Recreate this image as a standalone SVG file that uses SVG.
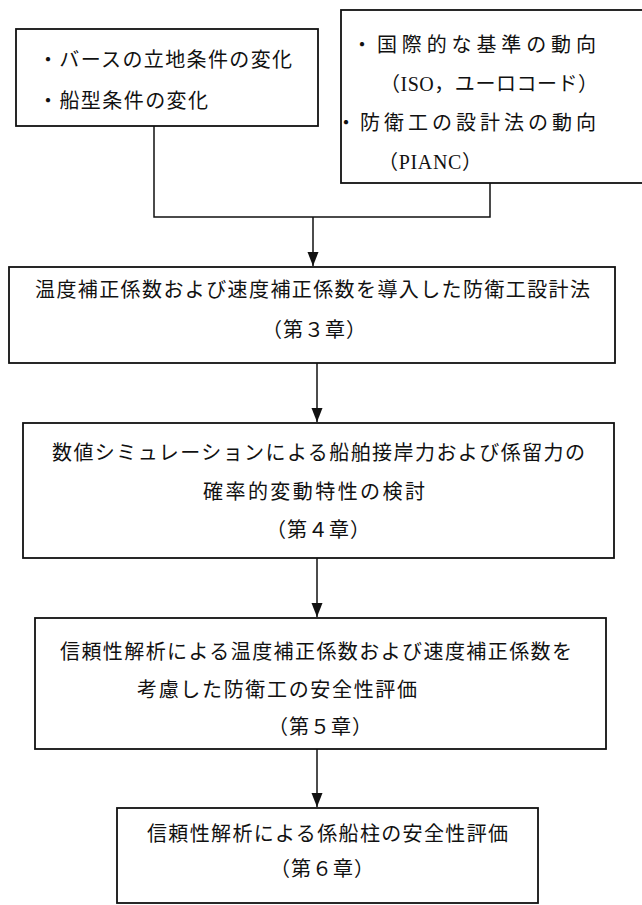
<svg xmlns="http://www.w3.org/2000/svg" width="642" height="905" viewBox="0 0 642 905">
<style>
.box{fill:#fff;stroke:#111;stroke-width:1.8}
.ln{fill:none;stroke:#111;stroke-width:1.5}
.t{font-family:"Noto Sans CJK JP",sans-serif;font-size:20px;fill:#111}
.r{font-family:"Liberation Serif",serif}
</style>
<defs>
<marker id="ah" markerUnits="userSpaceOnUse" markerWidth="16" markerHeight="12" viewBox="0 0 16 12" refX="15" refY="6" orient="auto">
<path d="M1,0.5 L15,6 L1,11.5 Z" fill="#111"/>
</marker>
</defs>
<g id="connectors">
<polyline class="ln" points="154,126 154,217 490,217 490,183"/>
<line class="ln" x1="313" y1="217" x2="313" y2="266" marker-end="url(#ah)"/>
<line class="ln" x1="317" y1="363" x2="317" y2="422" marker-end="url(#ah)"/>
<line class="ln" x1="317" y1="558" x2="317" y2="617" marker-end="url(#ah)"/>
<line class="ln" x1="317" y1="749" x2="317" y2="807" marker-end="url(#ah)"/>
</g>
<g id="n1">
<rect class="box" x="16" y="29" width="302" height="97"/>
<text class="t" x="38" y="67" textLength="254">・バースの立地条件の変化</text>
<text class="t" x="38" y="108" textLength="170">・船型条件の変化</text>
</g>
<g id="n2">
<rect class="box" x="341" y="10" width="320" height="173"/>
<text class="t" x="352" y="52" textLength="244">・国際的な基準の動向</text>
<text class="t" x="380" y="91" textLength="218">（<tspan class="r">ISO</tspan>，ユーロコード）</text>
<text class="t" x="336" y="130" textLength="260">・防衛工の設計法の動向</text>
<text class="t" x="378" y="169" textLength="104">（<tspan class="r">PIANC</tspan>）</text>
</g>
<g id="n3">
<rect class="box" x="9" y="267" width="606" height="96"/>
<text class="t" x="35" y="297" textLength="555">温度補正係数および速度補正係数を導入した防衛工設計法</text>
<text class="t" x="262" y="337" textLength="104">（第３章）</text>
</g>
<g id="n4">
<rect class="box" x="23" y="423" width="591" height="135"/>
<text class="t" x="52" y="460" textLength="533">数値シミュレーションによる船舶接岸力および係留力の</text>
<text class="t" x="203" y="499" textLength="222">確率的変動特性の検討</text>
<text class="t" x="266" y="537" textLength="104">（第４章）</text>
</g>
<g id="n5">
<rect class="box" x="35" y="618" width="571" height="131"/>
<text class="t" x="60" y="659" textLength="512">信頼性解析による温度補正係数および速度補正係数を</text>
<text class="t" x="137" y="697" textLength="280">考慮した防衛工の安全性評価</text>
<text class="t" x="268" y="734" textLength="104">（第５章）</text>
</g>
<g id="n6">
<rect class="box" x="117" y="808" width="421" height="95"/>
<text class="t" x="147" y="841" textLength="361">信頼性解析による係船柱の安全性評価</text>
<text class="t" x="270" y="876" textLength="104">（第６章）</text>
</g>
</svg>
